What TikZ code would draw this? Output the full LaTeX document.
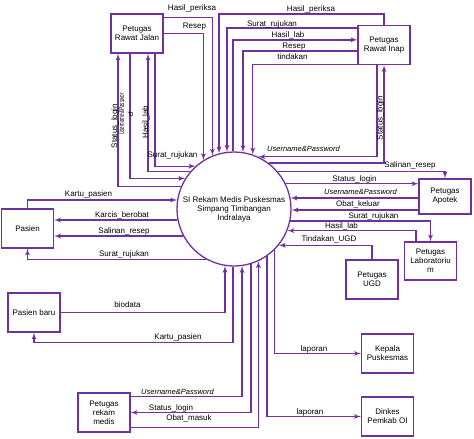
\documentclass[tikz,border=0pt]{standalone}
\usepackage{fontspec}
\setmainfont{Liberation Sans}
\usepackage{tikz}
\usetikzlibrary{arrows}
\definecolor{flowpurple}{RGB}{112,48,160}

\begin{document}
\begin{tikzpicture}[->,>=latex'
  ,x=1pt,y=-1pt
  ,color=flowpurple
  ,line width=1.3pt]
  \tikzstyle{every node}=[text=black]
  \tikzstyle{entity}=[rectangle,draw,minimum width=52pt,minimum height=39pt
  ,inner sep=1pt,align=center,font=\fontsize{8}{9}\selectfont]
  \tikzstyle{process}=[circle,draw,minimum size=114pt,inner sep=0pt
  ,align=center,font=\fontsize{8}{9}\selectfont]
  \tikzstyle{flowlabel}=[inner sep=1pt,text height=6pt,text depth=2pt
  ,font=\fontsize{8}{9}\selectfont]
  \tikzstyle{userlabel}=[flowlabel,font=\fontsize{7.5}{9}\selectfont\itshape]

  \useasboundingbox (0,0) rectangle (474,439);

  % process and entities
  \node[process] (c) at (234,209) {SI Rekam Medis Puskesmas\\Simpang Timbangan\\Indralaya};
  \node[entity] (rj) at (137,33.5) {Petugas\\Rawat Jalan};
  \node[entity] (ri) at (384,45) {Petugas\\Rawat Inap};
  \node[entity] (pa) at (27.5,228.5) {Pasien};
  \node[entity,minimum height=35pt] (ap) at (445,196.5) {Petugas\\Apotek};
  \node[entity,minimum height=38pt] (lb) at (430.5,261) {Petugas\\Laboratoriu\\m};
  \node[entity] (ug) at (372,279.5) {Petugas\\UGD};
  \node[entity] (pb) at (34,312.5) {Pasien baru};
  \node[entity] (rm) at (104,412.5) {Petugas\\rekam\\medis};
  \node[entity] (kp) at (387.5,353.5) {Kepala\\Puskesmas};
  \node[entity] (dk) at (387.5,416.5) {Dinkes\\Pemkab OI};

  % rawat jalan
  \draw ([yshift=-4pt]rj.north east) -| (c.112.7);
  \draw (rj.east) -| (c.122.95);
  \draw (c.157.3) -| ([xshift=-19pt]rj.south);
  \draw ([xshift=-7pt]rj.south) |- (c.148.24);
  \draw (c.139.53) -| ([xshift=11pt]rj.south);
  \draw ([xshift=18pt]rj.south) |- (c.132.54);

  % rawat inap
  \draw (ri.north) -- ++(0,-11) -| (c.105.26);
  \draw ([yshift=-3pt]ri.north west) -| (c.97.05);
  \draw (c.91) |- ([yshift=-15pt]ri.north west);
  \draw ([yshift=-26pt]ri.north west) -| (c.81.93);
  \draw ([yshift=1pt]ri.south west) -| (c.71.59);
  \draw ([xshift=-7pt]ri.south) |- (c.65.8);
  \draw (c.53.8) -| (ri.south);

  % pasien
  \draw (pa.north) |- (c.171.93);
  \draw (c.191.13) -- (c.191.13 -| pa.east);
  \draw (c.208.27) -- (c.208.27 -| pa.east);
  \draw (c.241.31) -| (pa.south);

  % pasien baru
  \draw (pb.east) -| (c.-99.08);
  \draw (c.-91) |- ([yshift=-10pt]pb.south) -- (pb.south);

  % rekam medis
  \draw ([yshift=-4pt]rm.north east) -| (c.-82.95);
  \draw (c.-73.7) |- (rm.east);
  \draw ([yshift=5pt]rm.south east) -| (c.-65.1);

  % laporan
  \draw (c.-45.43) |- (kp.west);
  \draw (c.-55.85) |- (dk.west);

  % apotek, lab, ugd
  \draw (c.41.81) -| (ap.north);
  \draw (c.26.01) -- (c.26.01 -| ap.west);
  \draw (c.11.13 -| ap.west) -- (c.11.13);
  \draw (c.-1 -| ap.west) -- (c.-1);
  \draw (c.-12.15) -| (lb.north);
  \draw ([xshift=-14.5pt]lb.north) |- (c.-22.7);
  \draw (ug.north) |- (c.-39.17);

  % labels
  \node[flowlabel] (lHP1) at (192,8) {Hasil\_periksa};
  \node[flowlabel] (lRs1) at (194.5,26) {Resep};
  \node[flowlabel] (lHP2) at (311,9) {Hasil\_periksa};
  \node[flowlabel] (lSR1) at (272,24) {Surat\_rujukan};
  \node[flowlabel] (lHL1) at (288,35) {Hasil\_lab};
  \node[flowlabel] (lRs2) at (294,46) {Resep};
  \node[flowlabel] (lTd) at (292.5,57) {tindakan};
  \node[userlabel] (lUP1) at (303.5,149) {Username\&Password};
  \node[flowlabel,rotate=90] (lSL1) at (380.5,118) {Status\_login};
  \node[flowlabel,rotate=90] (lSL2) at (115,126) {Status\_login};
  \node[font=\fontsize{7.5}{9}\selectfont\itshape,inner sep=0pt,align=center,rotate=90] (lUP2) at (126,114)
    {\scalebox{0.6}[1]{Username\&Passwor}\\d};
  \node[flowlabel,rotate=90] (lHL2) at (146,122) {Hasil\_lab};
  \node[flowlabel] (lSR2) at (172.5,155) {Surat\_rujukan};
  \node[flowlabel] (lKP1) at (88.5,194) {Kartu\_pasien};
  \node[flowlabel] (lKB) at (122,215) {Karcis\_berobat};
  \node[flowlabel] (lSRs1) at (124,231) {Salinan\_resep};
  \node[flowlabel] (lSR3) at (124,254) {Surat\_rujukan};
  \node[flowlabel] (lSRs2) at (410,165) {Salinan\_resep};
  \node[flowlabel] (lSL3) at (354.5,179) {Status\_login};
  \node[userlabel] (lUP3) at (360.5,192.5) {Username\&Password};
  \node[flowlabel] (lOK) at (358,204) {Obat\_keluar};
  \node[flowlabel] (lSR4) at (373.5,216) {Surat\_rujukan};
  \node[flowlabel] (lHL3) at (341.5,226) {Hasil\_lab};
  \node[flowlabel] (lTU) at (329,239) {Tindakan\_UGD};
  \node[flowlabel] (lBd) at (127.5,305) {biodata};
  \node[flowlabel] (lKP2) at (178,337) {Kartu\_pasien};
  \node[userlabel] (lUP4) at (177.5,392) {Username\&Password};
  \node[flowlabel] (lSL4) at (171,408) {Status\_login};
  \node[flowlabel] (lOM) at (189,418.5) {Obat\_masuk};
  \node[flowlabel] (lLp1) at (314,349) {laporan};
  \node[flowlabel] (lLp2) at (310,412) {laporan};
\end{tikzpicture}
\end{document}
